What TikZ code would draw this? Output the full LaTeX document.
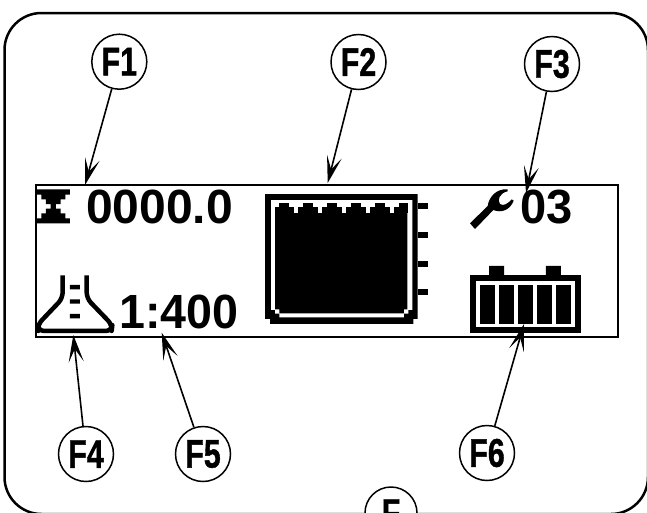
\documentclass[tikz,border=0pt]{standalone}
\usepackage{fontspec}
\setmainfont{Liberation Sans}
\newfontfamily\calloutfont[FakeBold=1.2]{Liberation Sans Bold}
\usetikzlibrary{arrows.meta}
\tikzset{
  callout/.style={circle,draw=black,line width=1.5pt,fill=white,minimum size=55pt,inner sep=0pt,font=\calloutfont\fontsize{40}{40}\selectfont},
  lead/.style={line width=1.6pt,-{Stealth[length=27pt,width=15pt,inset=13pt]}},
  lcd/.style={inner sep=0pt,anchor=base west,font=\bfseries\fontsize{48}{48}\selectfont},
  frameline/.style={draw=black,line width=2.5pt},
  lcdline/.style={draw=black,line width=2pt}
}
\newcommand{\Fl}[1]{\scalebox{0.76}[1]{#1}}
\begin{document}
\begin{tikzpicture}[x=1pt,y=-1pt]
\useasboundingbox (0,0) rectangle (647,512);
\clip (0,0) rectangle (647,512);
\fill[white] (0,0) rectangle (647,512);
% outer frame
\draw[frameline,rounded corners=37pt] (4.5,13) rectangle (648,514);
% display
\draw[lcdline] (36,185) rectangle (618,336.7);

% hourglass
\begin{scope}[shift={(30,180)},x=0.3333pt,y=-0.3333pt]
\fill[black] (20,28)--(120,28)--(120,44)--(106,44)--(106,58)--(92,58)--(92,72)--(78,72)--(78,86)--(92,86)--(92,100)--(106,100)--(106,115)--(120,115)--(120,130)--(20,130)--(20,115)--(34,115)--(34,100)--(48,100)--(48,86)--(62,86)--(62,72)--(48,72)--(48,58)--(34,58)--(34,44)--(20,44)--cycle;
\end{scope}

% flask
\begin{scope}[shift={(20,170)},x=0.3333pt,y=-0.3333pt]
\draw[black,line width=4.5pt,line join=round,line cap=butt,rounded corners=6pt]
 (128,316)--(128,385)--(52,465)--(55,483)--(275,483)--(277,465)--(200,385)--(200,316);
\fill[black] (150,345) rectangle (180,358) (150,388) rectangle (180,401) (150,432) rectangle (180,445);
\end{scope}

% level graphic
\begin{scope}[shift={(250,170)},x=0.3333pt,y=-0.3333pt]
\fill[black] (45,72)--(503,72)--(503,447)--(490,447)--(490,462)--(60,462)--(60,447)--(45,447)--cycle;
\fill[white] (63,90)--(487,90)--(487,420)--(475,420)--(475,431)--(462,431)--(462,442)--(88,442)--(88,431)--(75,431)--(75,420)--(63,420)--cycle;
\fill[black] (75,115) rectangle (472,418) (88,418) rectangle (462,430);
\foreach \a in {88,160,232,304,376}{
  \fill[black] (\a,98) rectangle ++(28,17);
}
\fill[black] (447,98) rectangle (475,130);
\fill[black] (75,112) rectangle (472,118);
\foreach \a in {132,204,276,348,420}{
  \fill[white] (\a,98) rectangle ++(13,30);
}
\fill[white] (63,98) rectangle (75,130);
\fill[white] (75,98) rectangle (88,112);
\foreach \a in {98,185,272,357}{
  \fill[black] (503,\a) rectangle (533,\a+18);
}
\end{scope}

% wrench
\begin{scope}[shift={(465,180)},x=0.3333pt,y=-0.3333pt]
\fill[black] (15,130)--(68,78) .. controls (72,50) and (95,25) .. (128,28) -- (128,34) .. controls (105,38) and (95,60) .. (105,72) .. controls (115,80) and (130,70) .. (140,58) -- (146,62) .. controls (135,90) and (110,100) .. (85,90) -- (30,147) -- cycle;
\end{scope}

% battery
\begin{scope}[shift={(450,170)},x=0.3333pt,y=-0.3333pt]
\fill[black] (60,316) rectangle (392,488);
\fill[black] (117,288) rectangle (162,316) (288,288) rectangle (333,316);
\fill[white] (78,333) rectangle (375,470);
\foreach \a in {90,147,204,261,318}{
  \fill[black] (\a,345) rectangle ++(45,117);
}
\end{scope}

% display texts
\node[lcd] (time) at (86,223.3) {\scalebox{1.0}[1]{0000.0}};
\node[lcd] (code) at (520,223.3) {\scalebox{0.98}[1]{03}};
\node[lcd] (ratio) at (119,328.3) {\scalebox{0.97}[1]{1:400}};

% target ends of the leaders
\coordinate (t1) at (85,185);
\coordinate (t2) at (327.7,183);
\coordinate (t3) at (526,193);
\coordinate (t4) at (73.3,335);
\coordinate (t5) at (161.7,332.7);
\coordinate (t6) at (524,324);

% callouts
\node[callout] (f1) at (119.3,61.7) {\Fl{F1}};
\node[callout] (f2) at (358.5,62) {\Fl{F2}};
\node[callout] (f3) at (552,64) {\Fl{F3}};
\node[callout] (f4) at (86,454) {\Fl{F4}};
\node[callout] (f5) at (203,454) {\Fl{F5}};
\node[callout] (f6) at (487,453) {\Fl{F6}};
\node[callout,minimum size=52pt] (f7) at (391,513) {\Fl{F}};

\draw[lead] (f1) -- (t1);
\draw[lead] (f2) -- (t2);
\draw[lead] (f3) -- (t3);
\draw[lead] (f4) -- (t4);
\draw[lead] (f5) -- (t5);
\draw[lead] (f6) -- (t6);
\end{tikzpicture}
\end{document}
